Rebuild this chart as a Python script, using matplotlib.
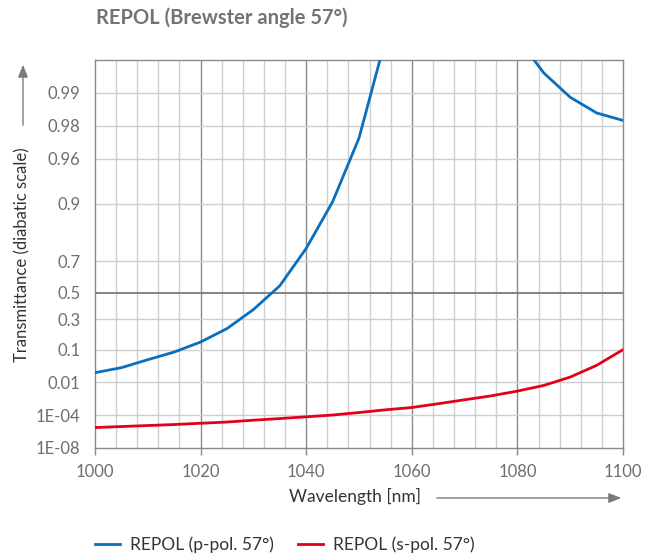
import numpy as np
import matplotlib
matplotlib.use("Agg")
import matplotlib.pyplot as plt
from matplotlib.lines import Line2D

plt.rcParams['font.family'] = ['Lato', 'DejaVu Sans']

# ---- data ----
wavelength = [1000, 1005, 1010, 1015, 1020, 1025, 1030, 1035, 1040, 1045, 1050,
              1055, 1060, 1065, 1070, 1075, 1080, 1085, 1090, 1095, 1100]
p_pol = [0.0236, 0.0344, 0.0581, 0.0888, 0.141, 0.229, 0.373, 0.551, 0.763, 0.904, 0.9741,
         0.99674, 0.9995, 0.9997, 0.9997, 0.9995, 0.99686, 0.9934, 0.9890, 0.9847, 0.9821]
s_pol = [6.4e-6, 8.3e-6, 1.06e-5, 1.35e-5, 1.82e-5, 2.4e-5, 3.6e-5, 5.1e-5, 7.3e-5, 1.04e-4, 1.67e-4,
         2.7e-4, 4.0e-4, 7.3e-4, 1.3e-3, 2.2e-3, 3.96e-3, 7.4e-3, 0.0164, 0.0404, 0.100]
y_ticks = [1e-8, 1e-4, 0.01, 0.1, 0.3, 0.5, 0.7, 0.9, 0.96, 0.98, 0.99]
y_ticklabels = ["1E-08", "1E-04", "0.01", "0.1", "0.3", "0.5", "0.7", "0.9", "0.96", "0.98", "0.99"]
x_ticks = [1000, 1020, 1040, 1060, 1080, 1100]
series_labels = ["REPOL (p-pol. 57°)", "REPOL (s-pol. 57°)"]
title = "REPOL (Brewster angle 57°)"

BLUE = "#0a6fbd"
RED = "#e2001a"


def fwd(t):
    t = np.clip(np.asarray(t, dtype=float), 1e-300, 1 - 1e-15)
    return -np.log(-np.log(t))


def inv(y):
    return np.exp(-np.exp(-np.asarray(y, dtype=float)))


W, H = 660, 557
fig = plt.figure(figsize=(6.6, 5.57), dpi=100)
ax = fig.add_axes([95 / W, 1 - 448 / H, (623 - 95) / W, (448 - 60) / H])
ax.set_yscale('function', functions=(fwd, inv))
ax.set_xlim(1000, 1100)
ax.set_ylim(1e-8, 0.99498)

# grid
for x in np.arange(1004, 1100, 4):
    major = (x % 20 == 0)
    ax.axvline(x, color="#8a8a8a" if major else "#cfcfcf", lw=1.0, zorder=1)
for y in y_ticks[1:]:
    ax.axhline(y, color="#7a7a7a" if y == 0.5 else "#cfcfcf", lw=1.3 if y == 0.5 else 1.0, zorder=1)

ax.plot(wavelength, p_pol, color=BLUE, lw=2.0, zorder=3)
ax.plot(wavelength, s_pol, color=RED, lw=2.0, zorder=3)

for s in ax.spines.values():
    s.set_color("#8a8a8a")
    s.set_linewidth(1.0)

ax.set_yticks(y_ticks)
ax.set_yticklabels(y_ticklabels)
ax.yaxis.set_minor_locator(matplotlib.ticker.NullLocator())
ax.set_xticks(x_ticks)
ax.tick_params(axis='y', length=0, pad=10.5, labelsize=12, labelcolor="#6e6e6e")
ax.tick_params(axis='x', length=5, width=1, color="#8a8a8a", pad=6.5, labelsize=12, labelcolor="#6e6e6e")

fig.text(22 / W, 1 - 255 / H, "Transmittance (diabatic scale)", fontsize=12, color="#333333",
         rotation=90, ha="center", va="center")
fig.text(355 / W, 1 - 496 / H, "Wavelength [nm]", fontsize=12.5, color="#333333",
         ha="center", va="center")

# arrows
fig.add_artist(matplotlib.patches.FancyArrowPatch((23 / W, 1 - 128 / H), (23 / W, 1 - 62 / H),
               transform=fig.transFigure, arrowstyle="-|>,head_length=5,head_width=2.0",
               color="#7a7a7a", lw=1.0, mutation_scale=1.5))
fig.add_artist(matplotlib.patches.FancyArrowPatch((434 / W, 1 - 498 / H), (624 / W, 1 - 498 / H),
               transform=fig.transFigure, arrowstyle="-|>,head_length=5,head_width=2.0",
               color="#7a7a7a", lw=1.0, mutation_scale=1.5))

fig.text(96 / W, 1 - 18 / H, title, fontsize=14.5, fontweight="bold", color="#737373",
         ha="left", va="center")

# legend
handles = [Line2D([], [], color=BLUE, lw=2.0), Line2D([], [], color=RED, lw=2.0)]
leg = fig.legend(handles, series_labels, loc="center left", bbox_to_anchor=(95 / W, 1 - 545 / H),
                 ncol=2, frameon=False, fontsize=12.5, handlelength=1.45, handletextpad=0.55,
                 columnspacing=1.4, borderpad=0, borderaxespad=0)
for t in leg.get_texts():
    t.set_color("#333333")

fig.savefig("out.png", dpi=100)
